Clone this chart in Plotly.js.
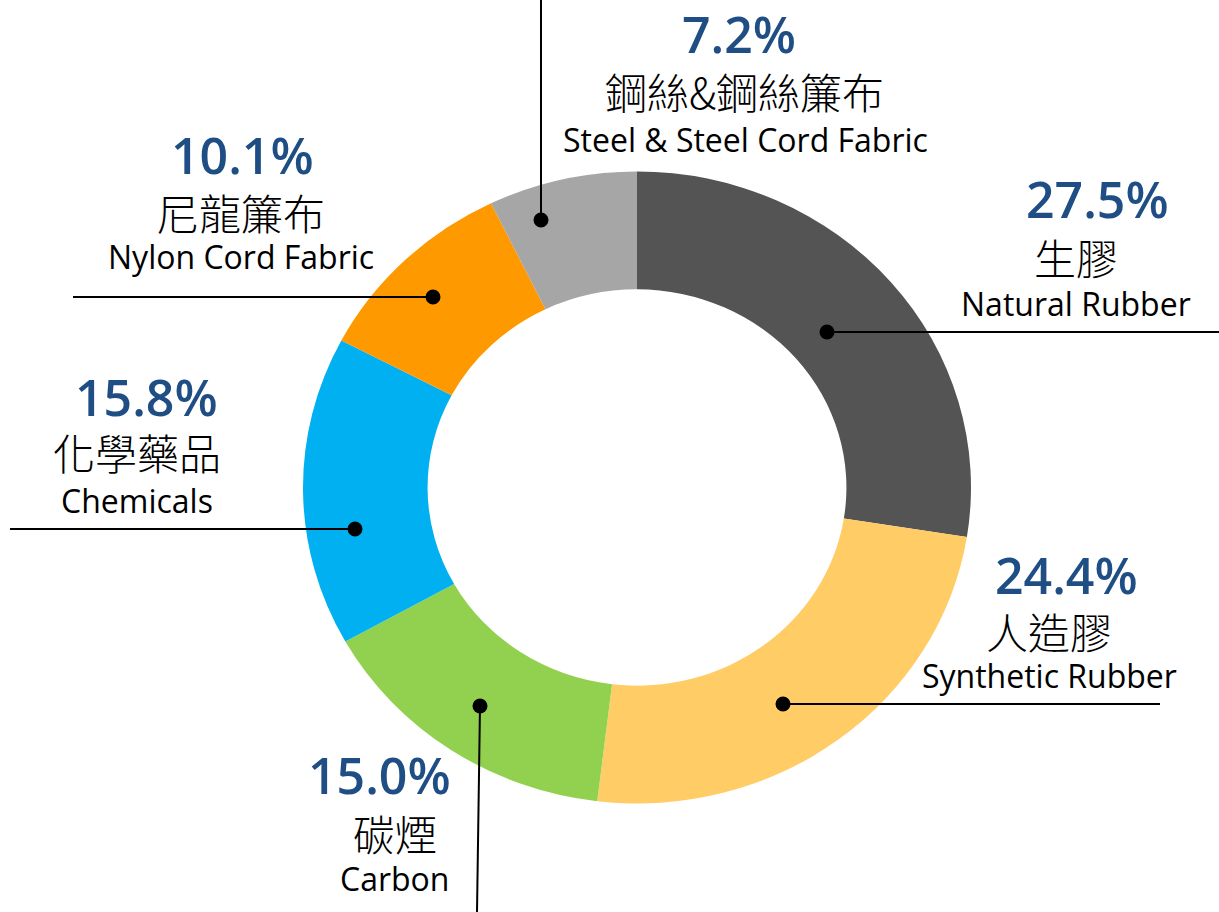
<!DOCTYPE html>
<html><head><meta charset="utf-8">
<script src="https://cdn.plot.ly/plotly-3.0.1.min.js"></script>
<style>html,body{margin:0;padding:0;background:#fff;} #chart{width:1219px;height:912px;}</style>
</head><body><div id="chart"></div>
<script>
// ---- data ----
const categoriesZh = ['生膠', '人造膠', '碳煙', '化學藥品', '尼龍簾布', '鋼絲&鋼絲簾布'];
const categoriesEn = ['Natural Rubber', 'Synthetic Rubber', 'Carbon', 'Chemicals', 'Nylon Cord Fabric', 'Steel & Steel Cord Fabric'];
const shares = [27.5, 24.4, 15.0, 15.8, 10.1, 7.2];
const sliceColors = ['#545454', '#FFCC66', '#92D050', '#00B0F0', '#FF9900', '#A6A6A6'];

// ---- layout helpers (pixels) ----
const W = 1219, H = 912;
const cx = 637, cy = 487.5, rY = 316, rX = 334;
// label centers: [pctX, pctY, zhX, zhY, enX, enY]
const labelPos = [
  [1097, 199, 1076, 256, 1076, 303],
  [1066, 575, 1049, 630, 1049, 675],
  [379, 775, 395, 832, 394, 878],
  [146, 397, 137, 451, 137, 500],
  [242, 155, 241, 211, 241, 256],
  [739, 34, 744, 91, 745, 139]
];
// leader lines: [dotX, dotY, endX, endY]
const leaders = [
  [827, 332, 1219, 332],
  [783, 704, 1160, 704],
  [480, 706, 477, 912],
  [355, 529, 10, 529],
  [433, 297, 73, 297],
  [541, 220, 541, 0]
];

const px = x => x / W;
const py = y => 1 - y / H;
const esc = s => s.replace(/&/g, '&amp;');

const data = [{
  type: 'pie',
  values: shares,
  labels: categoriesEn,
  marker: {colors: sliceColors, line: {width: 0}},
  hole: 0.627,
  sort: false,
  direction: 'clockwise',
  rotation: 0,
  textinfo: 'none',
  hoverinfo: 'label+percent',
  showlegend: false,
  domain: {x: [px(cx - rY), px(cx + rY)], y: [py(cy + rY), py(cy - rY)]}
}];

const annotations = [];
const shapes = [];
shares.forEach((v, i) => {
  const p = labelPos[i];
  annotations.push({
    xref: 'paper', yref: 'paper', x: px(p[0]), y: py(p[1]), xanchor: 'center', yanchor: 'middle',
    showarrow: false, text: v.toFixed(1) + '%',
    font: {family: 'Open Sans, Noto Sans, sans-serif', size: 50, weight: 600, color: '#1F4E85'}
  });
  annotations.push({
    xref: 'paper', yref: 'paper', x: px(p[2]), y: py(p[3]), xanchor: 'center', yanchor: 'middle',
    showarrow: false, text: esc(categoriesZh[i]),
    font: {family: 'Noto Sans CJK TC, sans-serif', size: 42, weight: 300, color: '#000000'}
  });
  annotations.push({
    xref: 'paper', yref: 'paper', x: px(p[4]), y: py(p[5]), xanchor: 'center', yanchor: 'middle',
    showarrow: false, text: esc(categoriesEn[i]),
    font: {family: 'Open Sans, Noto Sans, sans-serif', size: 32, color: '#000000'}
  });
  const l = leaders[i];
  shapes.push({type: 'line', xref: 'paper', yref: 'paper', x0: px(l[0]), y0: py(l[1]), x1: px(l[2]), y1: py(l[3]),
    line: {color: '#000000', width: 2}});
  const r = 7.5;
  shapes.push({type: 'circle', xref: 'paper', yref: 'paper',
    x0: px(l[0] - r), x1: px(l[0] + r), y0: py(l[1] + r), y1: py(l[1] - r),
    fillcolor: '#000000', line: {color: '#000000', width: 0}});
});

const layout = {
  width: W, height: H,
  margin: {l: 0, r: 0, t: 0, b: 0},
  paper_bgcolor: '#ffffff',
  plot_bgcolor: '#ffffff',
  showlegend: false,
  annotations: annotations,
  shapes: shapes
};

Plotly.newPlot('chart', data, layout, {staticPlot: true}).then(gd => {
  const sx = rX / rY;
  gd.querySelectorAll('.pielayer').forEach(g => {
    const prev = g.getAttribute('transform') || '';
    g.setAttribute('transform', `matrix(${sx},0,0,1,${cx * (1 - sx)},0) ${prev}`);
  });
});
</script>
</body></html>
